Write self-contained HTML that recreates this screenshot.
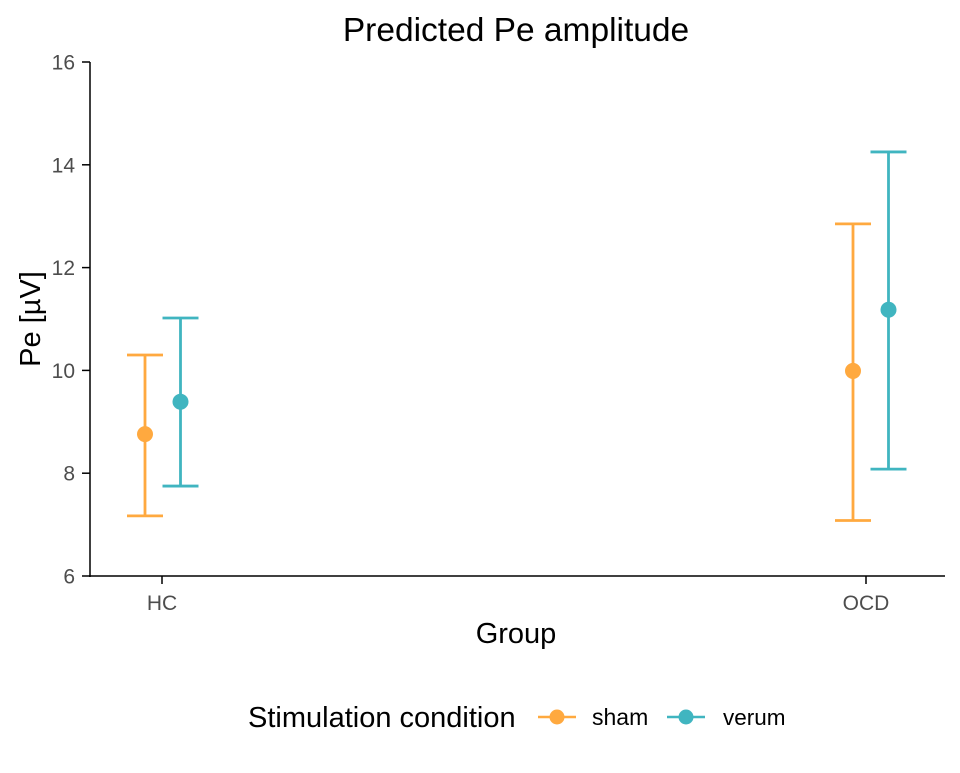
<!DOCTYPE html>
<html><head><meta charset="utf-8"><style>
body{margin:0;background:#fff}
svg text{font-family:"Liberation Sans",Arial,sans-serif}
</style></head><body>
<svg id="chart" width="960" height="768">
<text x="516" y="41" text-anchor="middle" font-size="33.5" fill="#000">Predicted Pe amplitude</text>
<g id="axes"></g>
<g id="marks"></g>
<text transform="translate(40,319) rotate(-90)" text-anchor="middle" font-size="29" fill="#000">Pe [µV]</text>
<text x="516" y="643" text-anchor="middle" font-size="29" fill="#000">Group</text>
<g>
<text x="248" y="727" font-size="29" fill="#000">Stimulation condition</text>
<g><line x1="538" y1="717" x2="576" y2="717" stroke="#FFA93F" stroke-width="2.5"/><circle cx="557" cy="717" r="7.5" fill="#FFA93F"/><text x="592" y="725" font-size="23" fill="#000">sham</text></g>
<g><line x1="667" y1="717" x2="705" y2="717" stroke="#40B5C0" stroke-width="2.5"/><circle cx="686" cy="717" r="7.5" fill="#40B5C0"/><text x="723" y="725" font-size="22.5" fill="#000">verum</text></g>
</g>
</svg>
<script>
const groups=["HC","OCD"];
const seriesNames=["sham","verum"];
const shamMean=[8.76,9.99];
const shamLow=[7.17,7.08];
const shamHigh=[10.30,12.85];
const verumMean=[9.39,11.18];
const verumLow=[7.75,8.08];
const verumHigh=[11.02,14.25];
const yTicks=[6,8,10,12,14,16];

const NS="http://www.w3.org/2000/svg";
const y=v=>576-(v-6)*51.4;
const x=i=>162+i*704;
const dodge=[-17,18.5];
const colors=["#FFA93F","#40B5C0"];
function mk(tag,attrs,parent){const e=document.createElementNS(NS,tag);for(const k in attrs)e.setAttribute(k,attrs[k]);parent.appendChild(e);return e;}
const axes=document.getElementById('axes'),marks=document.getElementById('marks');
let l=mk('line',{x1:90,y1:62,x2:90,y2:577,stroke:'#000','stroke-width':1.5},axes);


l=mk('line',{x1:89,y1:576,x2:945,y2:576,stroke:'#000','stroke-width':1.5},axes);


yTicks.forEach(t=>{
 mk('line',{x1:82,x2:90,y1:y(t),y2:y(t),stroke:'#000','stroke-width':1.5},axes);
 const tx=mk('text',{x:75,y:y(t)+7.5,'text-anchor':'end','font-size':21,fill:'#4d4d4d'},axes);tx.textContent=t;
 
 
});
groups.forEach((g,i)=>{
 mk('line',{x1:x(i),x2:x(i),y1:576,y2:584,stroke:'#000','stroke-width':1.5},axes);
 const tx=mk('text',{x:x(i),y:610,'text-anchor':'middle','font-size':21,fill:'#4d4d4d'},axes);tx.textContent=g;
 
 
});
const data=[[shamMean,shamLow,shamHigh],[verumMean,verumLow,verumHigh]];
data.forEach((s,si)=>{
 groups.forEach((g,i)=>{
  const cx=x(i)+dodge[si]+(i===1?4:0),c=colors[si];
  const grp=mk('g',{},marks);
  
  
  mk('line',{x1:cx,x2:cx,y1:y(s[1][i]),y2:y(s[2][i]),stroke:c,'stroke-width':2.8},grp);
  mk('line',{x1:cx-18,x2:cx+18,y1:y(s[1][i]),y2:y(s[1][i]),stroke:c,'stroke-width':2.8},grp);
  mk('line',{x1:cx-18,x2:cx+18,y1:y(s[2][i]),y2:y(s[2][i]),stroke:c,'stroke-width':2.8},grp);
  const p=mk('circle',{cx:cx,cy:y(s[0][i]),r:8,fill:c},grp);
  
  
 });
});
</script>
</body></html>
